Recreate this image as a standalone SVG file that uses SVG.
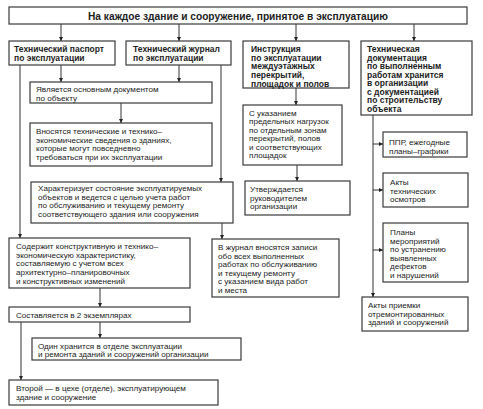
<svg xmlns="http://www.w3.org/2000/svg" width="483" height="409" viewBox="0 0 483 409">
<style>
.b{fill:#fff;stroke:#3a3a3a;stroke-width:1.2}
.t{font-family:"Liberation Sans",Arial,sans-serif;font-size:8.1px;fill:#222}
.h{font-weight:bold;font-size:8.5px}
.c{fill:none;stroke:#333;stroke-width:1}
</style>
<defs>
<marker id="a" viewBox="0 0 6 6" refX="6" refY="3" markerWidth="4.5" markerHeight="4.5" markerUnits="userSpaceOnUse" orient="auto">
<path d="M0,0 L6,3 L0,6 z" fill="#222"/>
</marker>
</defs>
<rect width="483" height="409" fill="#fff"/>
<g id="connectors">
<line class="c" x1="61" y1="24" x2="61" y2="41" marker-end="url(#a)"/>
<line class="c" x1="179" y1="24" x2="179" y2="41" marker-end="url(#a)"/>
<line class="c" x1="296" y1="24" x2="296" y2="41" marker-end="url(#a)"/>
<line class="c" x1="414" y1="24" x2="414" y2="41" marker-end="url(#a)"/>
<line class="c" x1="61" y1="65" x2="61" y2="82" marker-end="url(#a)"/>
<line class="c" x1="179" y1="65" x2="179" y2="82" marker-end="url(#a)"/>
<line class="c" x1="221" y1="65" x2="221" y2="182" marker-end="url(#a)"/>
<line class="c" x1="20" y1="65" x2="20" y2="238" marker-end="url(#a)"/>
<line class="c" x1="121" y1="103" x2="121" y2="123" marker-end="url(#a)"/>
<line class="c" x1="222" y1="223" x2="222" y2="239" marker-end="url(#a)"/>
<line class="c" x1="296" y1="88" x2="296" y2="105" marker-end="url(#a)"/>
<line class="c" x1="297" y1="165" x2="297" y2="181" marker-end="url(#a)"/>
<line class="c" x1="373" y1="115" x2="373" y2="297" marker-end="url(#a)"/>
<line class="c" x1="373" y1="144" x2="383" y2="144" marker-end="url(#a)"/>
<line class="c" x1="373" y1="190" x2="383" y2="190" marker-end="url(#a)"/>
<line class="c" x1="373" y1="250" x2="383" y2="250" marker-end="url(#a)"/>
<line class="c" x1="100" y1="288" x2="100" y2="307" marker-end="url(#a)"/>
<line class="c" x1="100" y1="322" x2="100" y2="338" marker-end="url(#a)"/>
<line class="c" x1="21" y1="322" x2="21" y2="380" marker-end="url(#a)"/>
</g>
<g id="top">
<rect class="b" x="9" y="7" width="458" height="17"/>
<text class="t h" x="238" y="19.5" text-anchor="middle" style="font-size:10.2px">На каждое здание и сооружение, принятое в эксплуатацию</text>
</g>
<g id="passport">
<rect class="b" x="9" y="41" width="106" height="24"/>
<text class="t h" x="14" y="52">Технический паспорт</text>
<text class="t h" x="14" y="61">по эксплуатации</text>
</g>
<g id="journal">
<rect class="b" x="126" y="41" width="105" height="24"/>
<text class="t h" x="133" y="52">Технический журнал</text>
<text class="t h" x="133" y="61">по эксплуатации</text>
</g>
<g id="instr">
<rect class="b" x="243" y="41" width="106" height="47"/>
<text class="t h" x="251" y="52">Инструкция</text>
<text class="t h" x="251" y="60.7">по эксплуатации</text>
<text class="t h" x="251" y="69.4">междуэтажных</text>
<text class="t h" x="251" y="78.1">перекрытий,</text>
<text class="t h" x="251" y="86.8">площадок и полов</text>
</g>
<g id="techdoc">
<rect class="b" x="361" y="41" width="111" height="74"/>
<text class="t h" x="367" y="52">Техническая</text>
<text class="t h" x="367" y="60.5">документация</text>
<text class="t h" x="367" y="69">по выполненным</text>
<text class="t h" x="367" y="77.5">работам хранится</text>
<text class="t h" x="367" y="86">в организации</text>
<text class="t h" x="367" y="94.5">с документацией</text>
<text class="t h" x="367" y="103">по строительству</text>
<text class="t h" x="367" y="111.5">объекта</text>
</g>
<g id="main-doc">
<rect class="b" x="30" y="82" width="182" height="21"/>
<text class="t" x="36" y="92">Является основным документом</text>
<text class="t" x="36" y="101">по объекту</text>
</g>
<g id="vnosyatsya">
<rect class="b" x="30" y="123" width="182" height="43"/>
<text class="t" x="36" y="134">Вносятся технические и технико–</text>
<text class="t" x="36" y="142.7">экономические сведения о зданиях,</text>
<text class="t" x="36" y="151.4">которые могут повседневно</text>
<text class="t" x="36" y="160.1">требоваться при их эксплуатации</text>
</g>
<g id="harakterizuet">
<rect class="b" x="31" y="182" width="202" height="41"/>
<text class="t" x="38" y="191">Характеризует состояние эксплуатируемых</text>
<text class="t" x="38" y="199.5">объектов и ведется с целью учета работ</text>
<text class="t" x="38" y="208">по обслуживанию и текущему ремонту</text>
<text class="t" x="38" y="216.5">соответствующего здания или сооружения</text>
</g>
<g id="soderzhit">
<rect class="b" x="9" y="238" width="181" height="50"/>
<text class="t" x="16" y="249">Содержит конструктивную и технико–</text>
<text class="t" x="16" y="257.7">экономическую характеристику,</text>
<text class="t" x="16" y="266.4">составляемую с учетом всех</text>
<text class="t" x="16" y="275.1">архитектурно–планировочных</text>
<text class="t" x="16" y="283.8">и конструктивных изменений</text>
</g>
<g id="sostavlyaetsya">
<rect class="b" x="9" y="307" width="181" height="15"/>
<text class="t" x="16" y="317.5">Составляется в 2 экземплярах</text>
</g>
<g id="odin">
<rect class="b" x="32" y="338" width="209" height="22"/>
<text class="t" x="38" y="348.5">Один хранится в отделе эксплуатации</text>
<text class="t" x="38" y="357">и ремонта зданий и сооружений организации</text>
</g>
<g id="vtoroy">
<rect class="b" x="9" y="380" width="209" height="25"/>
<text class="t" x="16" y="391">Второй — в цехе (отделе), эксплуатирующем</text>
<text class="t" x="16" y="400">здание и сооружение</text>
</g>
<g id="ukazaniem">
<rect class="b" x="243" y="105" width="99" height="60"/>
<text class="t" x="249" y="115.5">С указанием</text>
<text class="t" x="249" y="124">предельных нагрузок</text>
<text class="t" x="249" y="132.5">по отдельным зонам</text>
<text class="t" x="249" y="141">перекрытий, полов</text>
<text class="t" x="249" y="149.5">и соответствующих</text>
<text class="t" x="249" y="158">площадок</text>
</g>
<g id="utverzhdaetsya">
<rect class="b" x="245" y="181" width="105" height="34"/>
<text class="t" x="250" y="192">Утверждается</text>
<text class="t" x="250" y="200.5">руководителем</text>
<text class="t" x="250" y="209">организации</text>
</g>
<g id="vzhurnal">
<rect class="b" x="212" y="239" width="127" height="58"/>
<text class="t" x="218" y="250">В журнал вносятся записи</text>
<text class="t" x="218" y="258.5">обо всех выполненных</text>
<text class="t" x="218" y="267">работах по обслуживанию</text>
<text class="t" x="218" y="275.5">и текущему ремонту</text>
<text class="t" x="218" y="284">с указанием вида работ</text>
<text class="t" x="218" y="292.5">и места</text>
</g>
<g id="ppr">
<rect class="b" x="383" y="132" width="84" height="25"/>
<text class="t" x="389" y="145">ППР, ежегодные</text>
<text class="t" x="389" y="153.5">планы–графики</text>
</g>
<g id="akty-osmotrov">
<rect class="b" x="383" y="173" width="85" height="34"/>
<text class="t" x="390" y="185">Акты</text>
<text class="t" x="390" y="193.5">технических</text>
<text class="t" x="390" y="202">осмотров</text>
</g>
<g id="plany">
<rect class="b" x="383" y="223" width="85" height="59"/>
<text class="t" x="390" y="235">Планы</text>
<text class="t" x="390" y="243.5">мероприятий</text>
<text class="t" x="390" y="252">по устранению</text>
<text class="t" x="390" y="260.5">выявленных</text>
<text class="t" x="390" y="269">дефектов</text>
<text class="t" x="390" y="277.5">и нарушений</text>
</g>
<g id="akty-priemki">
<rect class="b" x="362" y="297" width="106" height="34"/>
<text class="t" x="368" y="308">Акты приемки</text>
<text class="t" x="368" y="316.5">отремонтированных</text>
<text class="t" x="368" y="325">зданий и сооружений</text>
</g>
</svg>
